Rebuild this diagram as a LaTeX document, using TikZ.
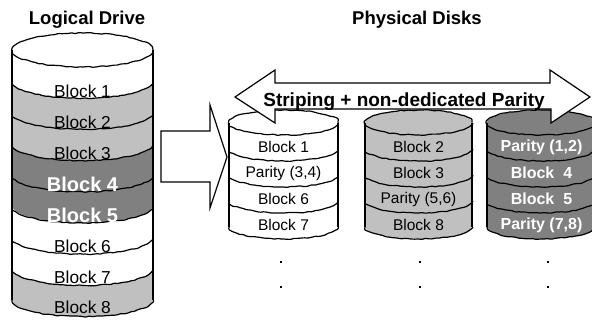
\documentclass[tikz,border=0pt]{standalone}
\usepackage{fontspec}
\setmainfont{Liberation Sans}
\usetikzlibrary{decorations.pathmorphing}
\definecolor{lgray}{HTML}{C0C0C0}
\definecolor{dgray}{HTML}{808080}
\tikzset{
  rough/.style={decorate, decoration={random steps, segment length=3.5pt, amplitude=0.55pt},
    rounded corners=0.8pt, line width=1.2pt, line join=round, draw=black},
  outline/.style={line width=1.2pt, draw=black, line join=miter},
  ldreg/.style={font=\fontsize{17.3}{17.3}\selectfont, text=black, inner sep=0pt},
  ldbold/.style={font=\fontsize{20}{20}\selectfont\bfseries, text=white, inner sep=0pt},
  pdreg/.style={font=\fontsize{15.5}{15.5}\selectfont, text=black, inner sep=0pt},
  pdbold/.style={font=\fontsize{16}{16}\selectfont\bfseries, text=white, inner sep=0pt},
  heading/.style={font=\fontsize{18.5}{18.5}\selectfont\bfseries, inner sep=0pt, anchor=base},
  dot/.style={fill=black, minimum size=2.2pt, inner sep=0pt}
}
% Stacked cylinder: #1 left x, #2 right x, #3 top-ellipse centre y,
% #4 ellipse y-radius, #5 band height, #6 number of bands, #7 band colours
\newcommand\drum[7]{%
  \pgfmathsetmacro\drumcx{(#1+#2)/2}%
  \pgfmathsetmacro\drumrx{(#2-#1)/2}%
  \pgfmathsetmacro\drumyn{#3+#6*#5}%
  % band fills
  \foreach \c [count=\k from 0] in {#7} {
    \pgfmathsetmacro\ya{#3+\k*#5}
    \pgfmathsetmacro\yb{#3+(\k+1)*#5}
    \fill[\c] (#1,\ya) arc[start angle=180, end angle=360, x radius=\drumrx pt, y radius=#4pt]
      -- (#2,\yb) arc[start angle=0, end angle=-180, x radius=\drumrx pt, y radius=#4pt] -- cycle;
  }
  % top face
  \foreach \c [count=\k] in {#7} { \ifnum\k=1 \global\let\drumtop\c \fi }
  \fill[\drumtop] (\drumcx,#3) ellipse[x radius=\drumrx pt, y radius=#4pt];
  % band seams and bottom rim
  \foreach \k in {1,...,#6} {
    \pgfmathsetmacro\yb{#3+\k*#5}
    \draw[rough] (#1,\yb) arc[start angle=180, end angle=360, x radius=\drumrx pt, y radius=#4pt];
  }
  \draw[rough] (\drumcx,#3) ellipse[x radius=\drumrx pt, y radius=#4pt];
  \draw[outline] (#1,#3) -- (#1,\drumyn);
  \draw[outline] (#2,#3) -- (#2,\drumyn);
}
\begin{document}
\begin{tikzpicture}[x=1pt, y=-1pt]
\useasboundingbox (0,0) rectangle (592,321);
\fill[white] (0,0) rectangle (592,321);

% headings
\node[heading] (hlog) at (87,25) {Logical Drive};
\node[heading] (hphys) at (417,25) {Physical Disks};

% logical drive
\drum{12}{153}{50}{17}{31.2}{8}{white,lgray,lgray,dgray,dgray,white,white,lgray}
\node[ldreg]  (l1) at (82.5,91)  {Block 1};
\node[ldreg]  (l2) at (82.5,122) {Block 2};
\node[ldreg]  (l3) at (82.5,153) {Block 3};
\node[ldbold] (l4) at (82.5,184) {Block 4};
\node[ldbold] (l5) at (82.5,215) {Block 5};
\node[ldreg]  (l6) at (82.5,246) {Block 6};
\node[ldreg]  (l7) at (82.5,277) {Block 7};
\node[ldreg]  (l8) at (82.5,307) {Block 8};

% block arrow from logical drive to disks
\filldraw[outline, fill=white] (161,131) -- (210,131) -- (210,105) -- (227,157)
  -- (210,208) -- (210,182) -- (161,182) -- cycle;

% physical disks
\drum{229}{338}{122.5}{12.5}{26}{4}{white,white,white,white}
\drum{365}{472}{122.5}{12.5}{26}{4}{lgray,lgray,lgray,lgray}
\drum{487}{595}{122.5}{12.5}{26}{4}{dgray,dgray,dgray,dgray}

\node[pdreg] (a1) at (283.5,147) {Block 1};
\node[pdreg] (a2) at (283.5,173) {Parity (3,4)};
\node[pdreg] (a3) at (283.5,199) {Block 6};
\node[pdreg] (a4) at (283.5,225) {Block 7};
\node[pdreg] (b1) at (418.5,147) {Block 2};
\node[pdreg] (b2) at (418.5,173) {Block 3};
\node[pdreg] (b3) at (418.5,199) {Parity (5,6)};
\node[pdreg] (b4) at (418.5,225) {Block 8};
\node[pdbold] (c1) at (541.5,147) {Parity (1,2)};
\node[pdbold] (c2) at (541.5,173) {Block\ \ 4};
\node[pdbold] (c3) at (541.5,199) {Block\ \ 5};
\node[pdbold] (c4) at (541.5,225) {Parity (7,8)};

% continuation dots
\foreach \x/\n in {281/a, 420/b, 548/c} {
  \node[dot] (\n dot1) at (\x,262) {};
  \node[dot] (\n dot2) at (\x,287) {};
}

% double-headed striping arrow
\filldraw[outline, fill=white] (235,97) -- (275,70) -- (275,83) -- (550,83) -- (550,70)
  -- (590,97) -- (551,123) -- (551,109) -- (275,109) -- (275,123) -- cycle;
\node[font=\fontsize{19}{19}\selectfont\bfseries, inner sep=0pt, anchor=base] (stripe) at (404,106.5)
  {Striping + non-dedicated Parity};
\end{tikzpicture}
\end{document}
